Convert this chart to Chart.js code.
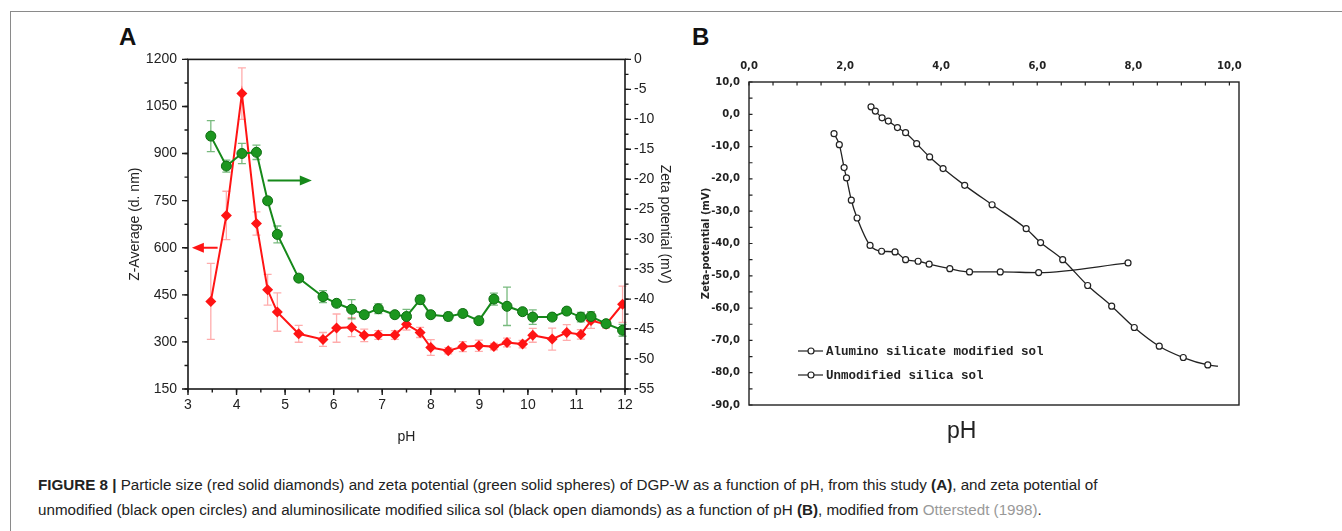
<!DOCTYPE html>
<html>
<head>
<meta charset="utf-8">
<script src="https://cdn.jsdelivr.net/npm/chart.js@4.4.1/dist/chart.umd.min.js"></script>
<style>
  body { margin: 0; width: 1342px; height: 531px; background: #fff; position: relative; overflow: hidden; font-family: "Liberation Sans", Arial, sans-serif; }
  .frame { position: absolute; left: 10px; top: 11px; width: 1340px; height: 530px; border-top: 1px solid #8a8a8a; border-left: 1px solid #8a8a8a; }
  #boxA { position: absolute; left: 110px; top: 40px; width: 570px; height: 410px; }
  #boxB { position: absolute; left: 690px; top: 40px; width: 580px; height: 410px; }
  .lab { position: absolute; font-weight: bold; font-size: 24px; color: #111; line-height: 24px; }
  .phB { position: absolute; left: 947px; top: 417px; font-size: 23px; color: #222; line-height: 26px; }
  .cap { position: absolute; left: 38px; top: 472px; font-size: 15.2px; line-height: 25px; color: #222; white-space: nowrap; }
  .cap a { color: #999; text-decoration: none; }
</style>
</head>
<body>
<div class="frame"></div>
<div class="lab" style="left:119px;top:25px">A</div>
<div class="lab" style="left:692px;top:25px">B</div>
<div id="boxA"><canvas id="chartA" width="570" height="410"></canvas></div>
<div id="boxB"><canvas id="chartB" width="580" height="410"></canvas></div>
<div class="phB">pH</div>
<div class="cap"><b>FIGURE 8 |</b> Particle size (red solid diamonds) and zeta potential (green solid spheres) of DGP-W as a function of pH, from this study <b>(A)</b>, and zeta potential of<br>unmodified (black open circles) and aluminosilicate modified silica sol (black open diamonds) as a function of pH <b>(B)</b>, modified from <a>Otterstedt (1998)</a>.</div>

<script>
// ---- panel A data (pH, Z-average size, zeta potential) ----
const phA = [3.47, 3.79, 4.11, 4.41, 4.64, 4.84, 5.28, 5.78, 6.06, 6.37, 6.63, 6.92, 7.26, 7.5, 7.78, 8.0, 8.36, 8.66, 8.99, 9.3, 9.57, 9.89, 10.1, 10.5, 10.8, 11.09, 11.3, 11.61, 11.95];
const sizeA = [429, 703, 1091, 677, 466, 395, 326, 308, 344, 347, 321, 322, 322, 356, 330, 282, 272, 285, 288, 285, 298, 293, 321, 309, 330, 324, 368, 356, 420];
const sizeErr = [121, 77, 82, 37, 49, 61, 27, 22, 45, 30, 20, 14, 14, 18, 16, 25, 10, 16, 18, 10, 14, 12, 22, 35, 25, 15, 25, 12, 58];
const zetaA = [-12.8, -17.8, -15.7, -15.5, -23.6, -29.2, -36.5, -39.6, -40.7, -41.7, -42.6, -41.6, -42.6, -42.9, -40.1, -42.6, -42.9, -42.4, -43.6, -40.0, -41.2, -42.1, -43.0, -43.0, -42.0, -43.0, -42.9, -44.1, -45.2];
const zetaErr = [2.6, 1.0, 1.7, 1.2, 0.5, 1.4, 0.4, 1.0, 0.5, 1.6, 0.5, 0.8, 0.5, 1.2, 0.7, 0.5, 0.7, 0.6, 0.5, 1.0, 3.2, 0.5, 1.2, 0.5, 0.5, 0.8, 0.8, 0.5, 1.0];
const xTicksA = [3, 4, 5, 6, 7, 8, 9, 10, 11, 12];

// arrows telling which axis belongs to which curve
const greenArrow = { from: [4.64, -20.2], to: [5.55, -20.2] };
const redArrow = { from: [3.61, 600], to: [3.08, 600] };

// ---- panel B data (Otterstedt 1998) ----
const phAlumino = [1.77, 1.88, 1.98, 2.03, 2.13, 2.25, 2.52, 2.76, 3.04, 3.26, 3.52, 3.75, 4.18, 4.59, 5.23, 6.03, 7.89];
const zetaAlumino = [-6.0, -9.4, -16.5, -19.7, -26.6, -32.1, -40.6, -42.4, -42.6, -45.0, -45.5, -46.4, -47.8, -48.8, -48.8, -49.0, -46.0];
const phUnmod = [2.54, 2.63, 2.77, 2.90, 3.09, 3.26, 3.49, 3.76, 4.04, 4.49, 5.06, 5.77, 6.07, 6.53, 7.05, 7.55, 8.02, 8.54, 9.04, 9.55, 9.76];
const zetaUnmod = [2.3, 1.0, -1.1, -2.1, -4.1, -5.7, -9.1, -13.2, -16.8, -22.0, -28.0, -35.4, -39.7, -45.0, -53.0, -59.4, -66.0, -71.8, -75.3, -77.6, -78.0];
const xTicksB = [0, 2, 4, 6, 8, 10];

const SANS = "'Liberation Sans', Arial, sans-serif";
const RED = '#ff1414';
const GREEN = '#16891a';

function pts(xs, ys) {
  return xs.map((v, i) => ({ x: v, y: ys[i] }));
}

// tick marks drawn by hand so minor ticks can be shorter
function tickMarks(ctx, scale, step, len, dir) {
  const horiz = scale.isHorizontal();
  let base;
  if (horiz) base = scale.position === 'top' ? scale.bottom : scale.top;
  else base = scale.position === 'left' ? scale.right : scale.left;
  const n = Math.floor((scale.max - scale.min) / step + 1e-6);
  ctx.beginPath();
  for (let i = 0; i <= n; i++) {
    const p = scale.getPixelForValue(scale.min + i * step);
    if (horiz) { ctx.moveTo(p, base); ctx.lineTo(p, base + dir * len); }
    else { ctx.moveTo(base, p); ctx.lineTo(base + dir * len, p); }
  }
  ctx.stroke();
}

function errBars(ctx, xs, ys, es, sx, sy, color) {
  ctx.save();
  ctx.strokeStyle = color;
  ctx.lineWidth = 1.3;
  ctx.beginPath();
  xs.forEach((v, i) => {
    const px = sx.getPixelForValue(v);
    const top = sy.getPixelForValue(ys[i] + es[i]);
    const bot = sy.getPixelForValue(ys[i] - es[i]);
    ctx.moveTo(px, top); ctx.lineTo(px, bot);
    ctx.moveTo(px - 4, top); ctx.lineTo(px + 4, top);
    ctx.moveTo(px - 4, bot); ctx.lineTo(px + 4, bot);
  });
  ctx.stroke();
  ctx.restore();
}

function arrow(ctx, sx, sy, a, color) {
  const x0 = sx.getPixelForValue(a.from[0]), y0 = sy.getPixelForValue(a.from[1]);
  const x1 = sx.getPixelForValue(a.to[0]), y1 = sy.getPixelForValue(a.to[1]);
  const d = Math.sign(x1 - x0);
  ctx.save();
  ctx.strokeStyle = color; ctx.fillStyle = color; ctx.lineWidth = 2;
  ctx.beginPath(); ctx.moveTo(x0, y0); ctx.lineTo(x1 - d * 10, y1); ctx.stroke();
  ctx.beginPath(); ctx.moveTo(x1, y1); ctx.lineTo(x1 - d * 12, y1 - 5); ctx.lineTo(x1 - d * 12, y1 + 5); ctx.closePath(); ctx.fill();
  ctx.restore();
}

const extrasA = {
  id: 'extrasA',
  beforeDatasetsDraw(chart) {
    const { ctx, scales: { x, y, y1 } } = chart;
    errBars(ctx, phA, sizeA, sizeErr, x, y, 'rgba(255,70,70,0.45)');
    errBars(ctx, phA, zetaA, zetaErr, x, y1, 'rgba(30,140,40,0.6)');
  },
  afterDraw(chart) {
    const { ctx, chartArea: a, scales: { x, y, y1 } } = chart;
    ctx.save();
    ctx.strokeStyle = '#1a1a1a';
    ctx.lineWidth = 1.6;
    ctx.strokeRect(a.left, a.top, a.right - a.left, a.bottom - a.top);
    ctx.lineWidth = 1.4;
    tickMarks(ctx, x, 1, 6, 1);
    tickMarks(ctx, x, 0.5, 3.5, 1);
    tickMarks(ctx, y, 150, 6, -1);
    tickMarks(ctx, y, 75, 3.5, -1);
    tickMarks(ctx, y1, 5, 6, 1);
    tickMarks(ctx, y1, 2.5, 3.5, 1);
    ctx.restore();
    arrow(ctx, x, y1, greenArrow, GREEN);
    arrow(ctx, x, y, redArrow, RED);
  }
};

const plain = v => String(v);

new Chart(document.getElementById('chartA'), {
  type: 'line',
  data: {
    datasets: [
      {
        label: 'Z-Average',
        data: pts(phA, sizeA),
        yAxisID: 'y',
        borderColor: RED,
        backgroundColor: RED,
        borderWidth: 2,
        pointStyle: 'rectRot',
        pointRadius: 5.5,
        pointBorderWidth: 0,
        order: 2
      },
      {
        label: 'Zeta potential',
        data: pts(phA, zetaA),
        yAxisID: 'y1',
        borderColor: GREEN,
        backgroundColor: '#1c961f',
        borderWidth: 2,
        pointStyle: 'circle',
        pointRadius: 5,
        pointBorderColor: '#0f6e12',
        pointBorderWidth: 1,
        order: 1
      }
    ]
  },
  options: {
    responsive: false,
    animation: false,
    layout: { padding: { top: 14, left: 0, right: 0, bottom: 0 } },
    plugins: { legend: { display: false }, tooltip: { enabled: false } },
    scales: {
      x: {
        type: 'linear',
        min: 3,
        max: 12,
        afterBuildTicks: s => { s.ticks = xTicksA.map(v => ({ value: v })); },
        afterFit: s => { s.height = 61; },
        grid: { display: false, drawTicks: false },
        border: { display: false },
        ticks: { padding: 8, color: '#222', callback: plain, font: { size: 14, family: SANS } },
        title: { display: true, text: 'pH', color: '#222', font: { size: 14, family: SANS }, padding: { top: 0, bottom: 4 } }
      },
      y: {
        position: 'left',
        min: 150,
        max: 1200,
        afterFit: s => { s.width = 78; },
        grid: { display: false, drawTicks: false },
        border: { display: false },
        ticks: { stepSize: 150, padding: 11, color: '#222', callback: plain, font: { size: 14, family: SANS } },
        title: { display: true, text: 'Z-Average (d. nm)', color: '#222', font: { size: 14, family: SANS }, padding: { top: 17, bottom: 0 } }
      },
      y1: {
        position: 'right',
        min: -55,
        max: 0,
        afterFit: s => { s.width = 55; },
        grid: { display: false, drawTicks: false },
        border: { display: false },
        ticks: { stepSize: 5, padding: 9, color: '#222', callback: plain, font: { size: 14, family: SANS } },
        title: { display: true, text: 'Zeta potential (mV)', color: '#222', font: { size: 14, family: SANS }, padding: { top: 7, bottom: 0 } }
      }
    }
  },
  plugins: [extrasA]
});

// ---- panel B ----
const BFONT = "'DejaVu Sans', sans-serif";
const commaFmt = v => v.toFixed(1).replace('.', ',');

const extrasB = {
  id: 'extrasB',
  afterDraw(chart) {
    const { ctx, chartArea: a, scales: { x, y } } = chart;
    ctx.save();
    ctx.strokeStyle = '#222';
    ctx.lineWidth = 1.4;
    ctx.strokeRect(a.left, a.top, a.right - a.left, a.bottom - a.top);
    ctx.lineWidth = 1.2;
    tickMarks(ctx, x, 0.5, 3.5, 1);
    tickMarks(ctx, y, 5, 3.5, 1);
    // legend inside plot
    const rows = [[108, 311], [108, 335]];
    chart.data.datasets.forEach((ds, i) => {
      const [lx, ly] = rows[i];
      ctx.strokeStyle = '#222';
      ctx.lineWidth = 1.2;
      ctx.beginPath(); ctx.moveTo(lx, ly); ctx.lineTo(lx + 25, ly); ctx.stroke();
      ctx.fillStyle = '#fff';
      ctx.beginPath(); ctx.arc(lx + 13, ly, 3, 0, Math.PI * 2); ctx.fill(); ctx.stroke();
      ctx.fillStyle = '#222';
      ctx.font = "bold 12.5px 'Liberation Mono', monospace";
      ctx.textBaseline = 'middle';
      ctx.fillText(ds.label, lx + 28, ly + 1);
    });
    ctx.restore();
  }
};

const lineStyle = {
  borderColor: '#222',
  borderWidth: 1.3,
  backgroundColor: '#fff',
  pointBorderColor: '#222',
  pointBorderWidth: 1.2,
  pointStyle: 'circle',
  cubicInterpolationMode: 'monotone'
};

new Chart(document.getElementById('chartB'), {
  type: 'line',
  data: {
    datasets: [
      Object.assign({ label: 'Alumino silicate modified sol', data: pts(phAlumino, zetaAlumino), pointRadius: 3 }, lineStyle),
      Object.assign({ label: 'Unmodified silica sol', data: pts(phUnmod, zetaUnmod),
        pointRadius: c => (c.dataIndex === phUnmod.length - 1 ? 0 : 3) }, lineStyle)
    ]
  },
  options: {
    responsive: false,
    animation: false,
    layout: { padding: { top: 0, left: 0, right: 31, bottom: 45 } },
    plugins: { legend: { display: false }, tooltip: { enabled: false } },
    scales: {
      x: {
        type: 'linear',
        position: 'top',
        min: 0,
        max: 10.2,
        afterBuildTicks: s => { s.ticks = xTicksB.map(v => ({ value: v })); },
        afterFit: s => { s.height = 42; },
        grid: { display: false, drawTicks: false },
        border: { display: false },
        ticks: { padding: 10, color: '#222', callback: commaFmt, font: { size: 10, weight: 'bold', family: BFONT } }
      },
      y: {
        position: 'left',
        min: -90,
        max: 10,
        afterFit: s => { s.width = 59; },
        grid: { display: false, drawTicks: false },
        border: { display: false },
        ticks: { stepSize: 10, padding: 9, color: '#222', callback: commaFmt, font: { size: 10, weight: 'bold', family: BFONT } },
        title: { display: true, text: 'Zeta-potential (mV)', color: '#222', font: { size: 10, weight: 'bold', family: BFONT }, padding: { top: 10, bottom: 0 } }
      }
    }
  },
  plugins: [extrasB]
});
</script>
</body>
</html>
